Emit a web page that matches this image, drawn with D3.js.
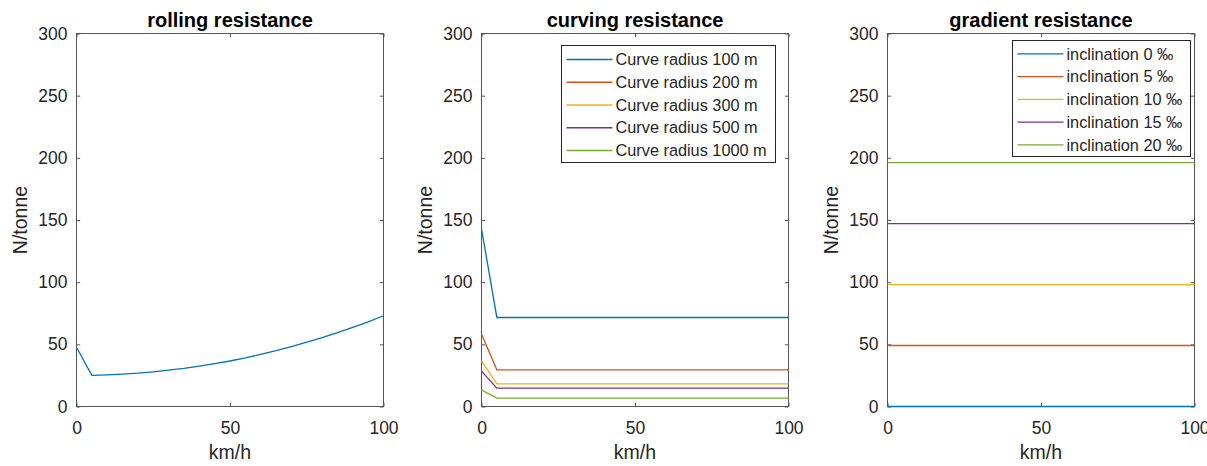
<!DOCTYPE html>
<html>
<head>
<meta charset="utf-8">
<script src="https://cdn.jsdelivr.net/npm/d3@7"></script>
<style>
  body{margin:0;background:#fff;}
  svg{display:block;font-family:"Liberation Sans",Arial,sans-serif;}
</style>
</head>
<body>
<div id="chart"></div>
<script>
/* colours of matlab default order */
const colors = ["#0072BD","#D95319","#EDB120","#7E2F8E","#77AC30"];

/* rolling resistance, read at 5 km/h steps */
const speeds = [0,5,10,15,20,25,30,35,40,45,50,55,60,65,70,75,80,85,90,95,100];
const rolling = [47.7,25.0,25.4,26.0,26.8,27.9,29.2,30.7,32.5,34.5,36.6,39.1,41.9,44.9,48.2,51.7,55.4,59.4,63.6,68.1,73.0];

/* curving resistance */
const curveSpeeds = [0,5,100];
const curveNames = ["Curve radius 100 m","Curve radius 200 m","Curve radius 300 m","Curve radius 500 m","Curve radius 1000 m"];
const curve100 = [142.9,71.6,71.6];
const curve200 = [58.4,29.5,29.5];
const curve300 = [36.7,18.2,18.2];
const curve500 = [28.4,14.7,14.7];
const curve1000 = [13.4,6.7,6.7];

/* gradient resistance */
const gradSpeeds = [0,100];
const gradNames = ["inclination 0 \u2030","inclination 5 \u2030","inclination 10 \u2030","inclination 15 \u2030","inclination 20 \u2030"];
const grad0 = [0,0];
const grad5 = [49.05,49.05];
const grad10 = [98.1,98.1];
const grad15 = [147.15,147.15];
const grad20 = [196.2,196.2];

const xTicks = [0,50,100];
const yTicks = [0,50,100,150,200,250,300];

var W = 1207, H = 466;
var pw = 307, ph = 373, plotTop = 33;
var lefts = [76,481,887];
var tickLen = 3.7;
var txtCol = "#262626";

var svg = d3.select("#chart").append("svg")
  .attr("width",W).attr("height",H);
svg.append("rect").attr("width",W).attr("height",H).attr("fill","#fff");

function drawPanel(idx,title,xs,series,names,leg){
  var g = svg.append("g")
    .attr("transform",`translate(${lefts[idx]+0.5},${plotTop+0.5})`);
  var x = d3.scaleLinear().domain([0,100]).range([0,pw]);
  var y = d3.scaleLinear().domain([0,300]).range([ph,0]);

  g.append("rect").attr("width",pw).attr("height",ph)
    .attr("fill","#fff").attr("stroke","#555").attr("stroke-width",1);

  // axes, ticks pointing inward
  var xb = g.append("g").attr("transform",`translate(0,${ph})`)
    .call(d3.axisBottom(x).tickValues(xTicks).tickSizeInner(-tickLen).tickSizeOuter(0).tickPadding(14.6));
  var xt = g.append("g")
    .call(d3.axisTop(x).tickValues(xTicks).tickSizeInner(-tickLen).tickSizeOuter(0).tickFormat(""));
  var yl = g.append("g")
    .call(d3.axisLeft(y).tickValues(yTicks).tickSizeInner(-tickLen).tickSizeOuter(0).tickPadding(9));
  var yr = g.append("g").attr("transform",`translate(${pw},0)`)
    .call(d3.axisRight(y).tickValues(yTicks).tickSizeInner(-tickLen).tickSizeOuter(0).tickFormat(""));
  [xb,xt,yl,yr].forEach(function(a){
    a.select(".domain").remove();
    a.selectAll("line").attr("stroke","#555");
    a.selectAll("text").attr("fill",txtCol).attr("font-size","17.5px")
      .attr("font-family","Liberation Sans, Arial, sans-serif");
  });

  var line = d3.line().x(function(d,i){return x(xs[i]);}).y(function(d){return y(d);});
  series.forEach(function(s,i){
    g.append("path").datum(s).attr("d",line)
      .attr("fill","none").attr("stroke",colors[i]).attr("stroke-width",1.3);
  });

  g.append("text").text(title)
    .attr("x",pw/2).attr("y",-6.5).attr("text-anchor","middle")
    .attr("font-weight","bold").attr("font-size","20px").attr("fill","#000");
  g.append("text").text("km/h")
    .attr("x",pw/2).attr("y",ph+52.5).attr("text-anchor","middle")
    .attr("font-size","19.5px").attr("fill",txtCol);
  g.append("text").text("N/tonne")
    .attr("transform",`translate(-50,${ph/2}) rotate(-90)`)
    .attr("text-anchor","middle").attr("font-size","19.5px").attr("fill",txtCol);

  if(names){
    var lg = g.append("g").attr("transform",`translate(${pw-leg.right-leg.w},${leg.top})`);
    lg.append("rect").attr("width",leg.w).attr("height",leg.h)
      .attr("fill","#fff").attr("stroke","#262626").attr("stroke-width",1);
    names.forEach(function(n,i){
      var cy = leg.first + i*22.75;
      lg.append("line").attr("x1",5).attr("x2",51).attr("y1",cy).attr("y2",cy)
        .attr("stroke",colors[i]).attr("stroke-width",1.3);
      lg.append("text").text(n).attr("x",54).attr("y",cy)
        .attr("dy","0.35em").attr("font-size","16.3px").attr("fill",txtCol);
    });
  }
}

drawPanel(0,"rolling resistance",speeds,[rolling],null,null);
drawPanel(1,"curving resistance",curveSpeeds,[curve100,curve200,curve300,curve500,curve1000],curveNames,
  {right:13,top:12,w:214,h:117,first:14});
drawPanel(2,"gradient resistance",gradSpeeds,[grad0,grad5,grad10,grad15,grad20],gradNames,
  {right:4,top:7,w:178,h:116,first:13.3});
</script>
</body>
</html>
